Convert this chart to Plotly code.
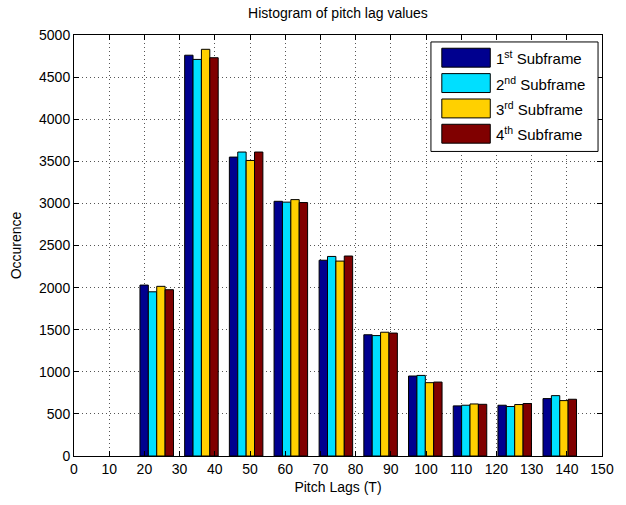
import plotly.graph_objects as go

# ---- data ----
bin_centers = [23.5, 36.2, 48.9, 61.6, 74.4, 87.1, 99.8, 112.5, 125.2, 138.0]
series_names = ["1<sup>st</sup> Subframe", "2<sup>nd</sup> Subframe",
                "3<sup>rd</sup> Subframe", "4<sup>th</sup> Subframe"]
sub1 = [2030, 4760, 3550, 3025, 2325, 1440, 950, 595, 603, 682]
sub2 = [1950, 4710, 3610, 3015, 2370, 1430, 957, 603, 588, 717]
sub3 = [2015, 4830, 3510, 3045, 2315, 1470, 871, 618, 611, 658]
sub4 = [1975, 4730, 3610, 3010, 2375, 1460, 878, 614, 623, 674]
x_ticks = list(range(0, 151, 10))
y_ticks = list(range(0, 5001, 500))

colors = ["#00008F", "#00DFFF", "#FFD000", "#800000"]
values = [sub1, sub2, sub3, sub4]

FONT = "Liberation Sans, Arial, Helvetica, sans-serif"

fig = go.Figure()
for name, vals, col in zip(series_names, values, colors):
    fig.add_trace(go.Bar(x=bin_centers, y=vals, name=name,
                         marker=dict(color=col, line=dict(color="black", width=1)),
                         showlegend=False))

# plot-area pixel geometry (for the custom legend)
L, R, T, B = 74, 608, 35, 458
W, H = 626, 505
def px(x):
    return (x - L) / (R - L)
def py(y):
    return (B - y) / (B - T)

shapes = []
annotations = []
# legend box
shapes.append(dict(type="rect", xref="paper", yref="paper",
                   x0=px(435), x1=px(604), y0=py(152), y1=py(42),
                   fillcolor="white", line=dict(color="black", width=1)))
row_centers = [57.8, 83.3, 108.8, 134.2]
for name, col, yc in zip(series_names, colors, row_centers):
    shapes.append(dict(type="rect", xref="paper", yref="paper",
                       x0=px(446), x1=px(495), y0=py(yc + 9.5), y1=py(yc - 9.5),
                       fillcolor=col, line=dict(color="black", width=1)))
    annotations.append(dict(xref="paper", yref="paper", x=px(499), y=py(yc),
                            xanchor="left", yanchor="middle", showarrow=False,
                            text=name, font=dict(family=FONT, size=15, color="black")))

axis_common = dict(showline=True, linecolor="black", linewidth=1, mirror="ticks",
                   ticks="inside", ticklen=5, tickcolor="black",
                   showgrid=True, gridcolor="#555555", gridwidth=1, griddash="1px,3px",
                   zeroline=False,
                   tickfont=dict(family=FONT, size=14, color="black"))

fig.update_layout(
    width=W, height=H,
    margin=dict(l=L, r=W - R, t=T, b=H - B),
    paper_bgcolor="white", plot_bgcolor="white",
    barmode="group", bargap=0.25, bargroupgap=0,
    title=dict(text="Histogram of pitch lag values", x=0.5, xref="paper",
               y=1 - 13 / H, yanchor="middle",
               font=dict(family=FONT, size=14, color="black")),
    xaxis=dict(range=[0, 150], tickvals=x_ticks,
               title=dict(text="Pitch Lags (T)", standoff=6,
                          font=dict(family=FONT, size=14, color="black")),
               **axis_common),
    yaxis=dict(range=[0, 5000], tickvals=y_ticks,
               title=dict(text="Occurence", standoff=14,
                          font=dict(family=FONT, size=14, color="black")),
               **axis_common),
    shapes=shapes, annotations=annotations,
)

fig.write_html("out.html")
